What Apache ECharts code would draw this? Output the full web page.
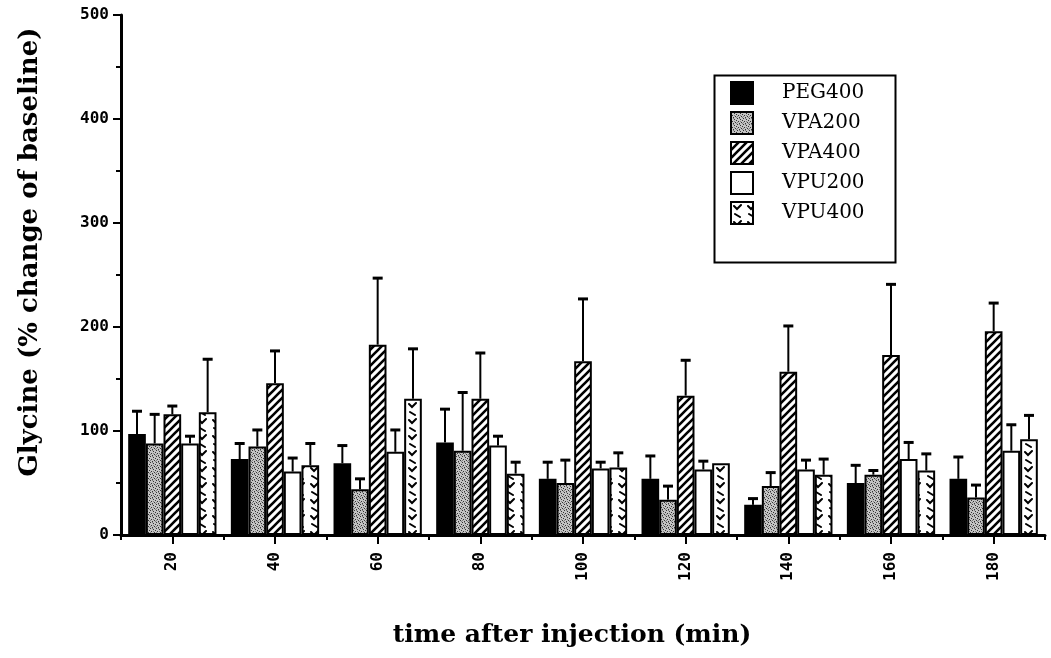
<!DOCTYPE html>
<html>
<head>
<meta charset="utf-8">
<script src="https://cdn.jsdelivr.net/npm/echarts@6/dist/echarts.min.js"></script>
<style>html,body{margin:0;padding:0;background:#fff;}#c{width:1051px;height:658px;}</style>
</head>
<body>
<div id="c"></div>
<script>
// ---- data ----
const categories = ['20','40','60','80','100','120','140','160','180'];
const seriesNames = ['PEG400','VPA200','VPA400','VPU200','VPU400'];
const PEG400 = [97, 73, 69, 89, 54, 54, 29, 50, 54];
const PEG400_top = [119, 88, 86, 121, 70, 76, 35, 67, 75];
const VPA200 = [88, 85, 44, 81, 50, 34, 47, 58, 36];
const VPA200_top = [116, 101, 54, 137, 72, 47, 60, 62, 48];
const VPA400 = [116, 146, 183, 131, 167, 134, 157, 173, 196];
const VPA400_top = [124, 177, 247, 175, 227, 168, 201, 241, 223];
const VPU200 = [88, 61, 80, 86, 64, 63, 63, 73, 81];
const VPU200_top = [95, 74, 101, 95, 70, 71, 72, 89, 106];
const VPU400 = [118, 67, 131, 59, 65, 69, 58, 62, 92];
const VPU400_top = [169, 88, 179, 70, 79, 69, 73, 78, 115];
const yTicks = [0, 100, 200, 300, 400, 500];

const means = [PEG400, VPA200, VPA400, VPU200, VPU400];
const tops = [PEG400_top, VPA200_top, VPA400_top, VPU200_top, VPU400_top];

// ---- patterns ----
function mk(w, h, draw) {
  const c = document.createElement('canvas');
  c.width = w; c.height = h;
  const g = c.getContext('2d');
  g.fillStyle = '#fff'; g.fillRect(0, 0, w, h);
  draw(g);
  return { image: c, repeat: 'repeat' };
}
const patStipple = mk(6, 6, g => {
  g.fillStyle = '#c4c4c4'; g.fillRect(0, 0, 6, 6);
  g.fillStyle = '#333';
  [[0,0],[3,1],[1,3],[4,4],[5,2],[2,5]].forEach(p => g.fillRect(p[0], p[1], 1, 1));
  g.fillStyle = '#808080';
  [[2,0],[5,5],[0,4],[3,3]].forEach(p => g.fillRect(p[0], p[1], 1, 1));
});
const patHatch = mk(8, 8, g => {
  g.strokeStyle = '#000'; g.lineWidth = 2.6; g.lineCap = 'square';
  g.beginPath();
  g.moveTo(-2, 10); g.lineTo(10, -2);
  g.moveTo(-6, 6); g.lineTo(6, -6);
  g.moveTo(2, 14); g.lineTo(14, 2);
  g.stroke();
});
const patCheck = mk(14, 16, g => {
  g.strokeStyle = '#000'; g.lineWidth = 2; g.lineCap = 'round';
  g.beginPath();
  g.moveTo(3, 4); g.lineTo(6, 7); g.lineTo(10, 3);
  g.moveTo(4, 12); g.lineTo(9, 15);
  g.stroke();
});
const fills = ['#000', patStipple, patHatch, '#fff', patCheck];

const chart = echarts.init(document.getElementById('c'), null, { renderer: 'canvas' });

const catGap = 0.14;
const barSeries = seriesNames.map((n, i) => ({
  name: n,
  type: 'bar',
  data: means[i],
  barGap: '0%',
  barCategoryGap: (catGap * 100) + '%',
  itemStyle: { color: fills[i], borderColor: '#000', borderWidth: 2 },
  emphasis: { disabled: true },
  z: 3
}));

const errData = [];
for (let s = 0; s < 5; s++) for (let c = 0; c < categories.length; c++) errData.push([c, s, means[s][c], tops[s][c]]);

const errSeries = {
  type: 'custom',
  data: errData,
  z: 2,
  silent: true,
  encode: { x: 0, y: 3 },
  renderItem: function (params, api) {
    const c = api.value(0), s = api.value(1), m = api.value(2), t = api.value(3);
    if (t <= m) return null;
    const band = api.size([1, 0])[0];
    const bw = band * (1 - catGap) / 5;
    const cx = api.coord([c, 0])[0] + (s - 2) * bw;
    const y1 = api.coord([c, m])[1];
    const y2 = api.coord([c, t])[1];
    return {
      type: 'group',
      children: [
        { type: 'line', shape: { x1: cx, y1: y1, x2: cx, y2: y2 }, style: { stroke: '#000', lineWidth: 2 } },
        { type: 'line', shape: { x1: cx - 5, y1: y2, x2: cx + 5, y2: y2 }, style: { stroke: '#000', lineWidth: 3 } }
      ]
    };
  }
};

const monoLabel = { fontFamily: 'DejaVu Sans Mono', fontWeight: 'bold', fontSize: 16, color: '#000' };

chart.setOption({
  animation: false,
  backgroundColor: '#fff',
  grid: { left: 121, right: 6, top: 15, bottom: 123, containLabel: false },
  legend: {
    data: seriesNames,
    orient: 'vertical',
    left: 730, top: 81,
    padding: 0,
    itemWidth: 22, itemHeight: 22, itemGap: 6,
    icon: 'rect',
    itemStyle: { borderColor: '#000', borderWidth: 2 },
    textStyle: { fontFamily: 'DejaVu Serif', fontSize: 20, color: '#000', padding: [0, 0, 0, 24] },
    selectedMode: false
  },
  xAxis: [{
    type: 'category',
    data: categories,
    axisLine: { lineStyle: { color: '#000', width: 3 } },
    axisTick: { show: true, alignWithLabel: false, length: 5, lineStyle: { color: '#000', width: 2 } },
    axisLabel: Object.assign({ rotate: 90, margin: 17 }, monoLabel),
    name: 'time after injection (min)',
    nameLocation: 'middle',
    nameGap: 88,
    nameTextStyle: { fontFamily: 'DejaVu Serif', fontWeight: 'bold', fontSize: 25, color: '#000', padding: [0, 22, 0, 0] }
  }, {
    type: 'category',
    data: categories,
    position: 'bottom',
    axisLine: { show: false },
    axisTick: { show: true, alignWithLabel: true, length: 9, lineStyle: { color: '#000', width: 2 } },
    axisLabel: { show: false }
  }],
  yAxis: {
    type: 'value',
    min: yTicks[0], max: yTicks[yTicks.length - 1], interval: 100,
    splitLine: { show: false },
    axisLine: { show: true, lineStyle: { color: '#000', width: 3 } },
    axisTick: { show: true, length: 8, lineStyle: { color: '#000', width: 2 } },
    minorTick: { show: true, splitNumber: 2, length: 5, lineStyle: { color: '#000', width: 2 } },
    axisLabel: Object.assign({ margin: 12 }, monoLabel)
  },
  graphic: [
    { type: 'rect', left: 712, top: 73, shape: { x: 0, y: 0, width: 181, height: 187 }, style: { fill: 'none', stroke: '#000', lineWidth: 2 }, z: 10 },
    { type: 'text', x: 30, y: 252, rotation: Math.PI / 2, style: { text: 'Glycine (% change of baseline)', fontFamily: 'DejaVu Serif', fontWeight: 'bold', fontSize: 26, fill: '#000', textAlign: 'center', textVerticalAlign: 'middle' } }
  ],
  series: barSeries.concat([errSeries])
});
</script>
</body>
</html>
